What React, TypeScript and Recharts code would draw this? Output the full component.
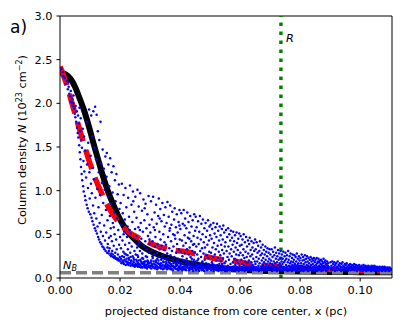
import {
  ComposedChart,
  Line,
  ReferenceLine,
  Scatter,
  XAxis,
  YAxis,
} from "recharts";

// axis setup (pc, 10^23 cm^-2)
const X_MAX = 0.1106;
const X_TICKS = [0, 0.02, 0.04, 0.06, 0.08, 0.1];
const Y_TICKS = [0, 0.5, 1, 1.5, 2, 2.5, 3];

const R_CORE = 0.0736;
const N_BACKGROUND = 0.06;

// model profile (black solid)
const MODEL_X = [0, 0.002, 0.0035, 0.005, 0.0065, 0.008, 0.0095, 0.011, 0.0125, 0.014, 0.016, 0.018, 0.02, 0.0225, 0.025, 0.0275, 0.03, 0.035, 0.04, 0.045, 0.05, 0.055, 0.06, 0.065, 0.07, 0.08, 0.09, 0.1, 0.1106];
const MODEL_N = [2.35, 2.33, 2.28, 2.19, 2.06, 1.92, 1.75, 1.56, 1.38, 1.2, 0.99, 0.82, 0.67, 0.53, 0.44, 0.36, 0.31, 0.24, 0.19, 0.155, 0.13, 0.11, 0.095, 0.085, 0.08, 0.073, 0.069, 0.067, 0.065];

// mean observed profile (red dashed)
const MEAN_X = [0, 0.002, 0.004, 0.006, 0.008, 0.01, 0.012, 0.014, 0.016, 0.018, 0.02, 0.022, 0.0245, 0.028, 0.032, 0.036, 0.042, 0.047, 0.052, 0.057, 0.063, 0.068, 0.073, 0.078, 0.083, 0.093, 0.103, 0.1106];
const MEAN_N = [2.42, 2.24, 2.0, 1.76, 1.53, 1.31, 1.12, 0.96, 0.82, 0.71, 0.62, 0.55, 0.49, 0.43, 0.37, 0.33, 0.3, 0.26, 0.22, 0.2, 0.16, 0.14, 0.13, 0.12, 0.11, 0.095, 0.085, 0.08];

// individual pixel column densities (blue dots), [x, N]
const PIXELS: [number, number][] = [
  // 0.000 - 0.010
  [0.0004,2.40],[0.0009,2.36],[0.0011,2.31],[0.0016,2.29],[0.0019,2.22],[0.0023,2.26],[0.0026,2.16],[0.0029,2.19],[0.0031,2.11],[0.0034,2.08],
  [0.0036,2.14],[0.0039,2.01],[0.0041,2.05],[0.0043,1.97],[0.0045,2.09],[0.0047,1.94],[0.0049,1.88],[0.0035,2.02],[0.0027,2.24],[0.0044,2.00],
  [0.0051,1.84],[0.0052,1.97],[0.0054,1.79],[0.0056,1.91],[0.0057,1.72],[0.0059,1.66],[0.006,1.86],[0.0061,1.61],[0.0063,1.77],[0.0064,1.52],
  [0.0065,1.95],[0.0066,1.44],[0.0067,1.68],[0.0068,1.36],[0.0069,1.83],[0.007,1.27],[0.0071,1.58],[0.0072,1.19],[0.0073,1.49],[0.0074,1.12],
  [0.0076,1.71],[0.0077,1.05],[0.0078,1.34],[0.0079,0.99],[0.008,1.62],[0.0081,1.22],[0.0083,0.94],[0.0084,1.46],[0.0085,0.89],[0.0087,1.15],
  [0.0088,1.79],[0.0089,0.84],[0.009,1.30],[0.0092,0.80],[0.0093,1.03],[0.0094,1.55],[0.0096,0.76],[0.0097,1.93],[0.0098,1.21],[0.0099,0.91],
  // 0.010 - 0.015
  [0.0101,0.73],[0.0102,1.40],[0.0103,1.08],[0.0104,1.86],[0.0105,0.69],[0.0106,0.97],[0.0107,1.62],[0.0108,0.65],[0.0109,1.26],[0.011,0.83],
  [0.0111,1.91],[0.0112,0.61],[0.0113,1.13],[0.0114,0.74],[0.0115,1.49],[0.0116,0.57],[0.0117,1.96],[0.0118,0.92],[0.0119,0.54],[0.012,1.36],
  [0.0121,0.68],[0.0122,1.87],[0.0123,0.51],[0.0124,1.02],[0.0125,0.59],[0.0126,1.68],[0.0127,0.47],[0.0128,0.81],[0.0129,1.21],[0.013,0.44],
  [0.0131,1.58],[0.0132,0.63],[0.0133,0.95],[0.0134,0.41],[0.0135,1.79],[0.0136,0.53],[0.0137,1.31],[0.0138,0.39],[0.0139,0.72],[0.014,1.09],
  [0.0141,0.36],[0.0142,1.47],[0.0143,0.48],[0.0144,0.86],[0.0145,0.35],[0.0146,1.25],[0.0147,0.60],[0.0148,0.33],[0.0149,1.01],[0.015,0.43],
  // 0.015 - 0.020
  [0.0151,1.39],[0.0152,0.31],[0.0153,0.78],[0.0154,0.52],[0.0155,1.16],[0.0156,1.43],[0.0157,0.29],[0.0158,0.66],[0.0159,0.39],[0.016,0.93],
  [0.0161,1.30],[0.0162,0.28],[0.0163,0.46],[0.0164,1.05],[0.0165,0.34],[0.0166,0.71],[0.0167,1.37],[0.0168,0.26],[0.0169,0.57],[0.017,0.85],
  [0.0171,0.25],[0.0172,1.21],[0.0173,0.42],[0.0174,0.31],[0.0175,0.98],[0.0176,0.63],[0.0177,0.24],[0.0178,1.28],[0.0179,0.37],[0.018,0.75],
  [0.0181,0.23],[0.0182,0.50],[0.0183,1.12],[0.0184,0.29],[0.0185,0.88],[0.0186,0.22],[0.0187,0.44],[0.0188,1.19],[0.0189,0.33],[0.019,0.68],
  [0.0191,0.21],[0.0192,0.96],[0.0193,0.27],[0.0194,0.55],[0.0195,0.20],[0.0196,1.07],[0.0197,0.38],[0.0198,0.79],[0.0199,0.24],[0.02,0.47],
  [0.0158,0.35],[0.0163,0.31],[0.0171,0.28],[0.0176,0.27],[0.0182,0.25],[0.0188,0.23],[0.0193,0.22],[0.0197,0.21],[0.0169,0.48],[0.0179,0.58],
  // 0.020 - 0.025
  [0.0201,0.19],[0.0202,0.86],[0.0203,0.34],[0.0204,0.61],[0.0205,0.17],[0.0206,1.08],[0.0207,0.25],[0.0208,0.43],[0.0209,0.74],[0.021,0.18],
  [0.0211,0.30],[0.0212,0.95],[0.0213,0.16],[0.0214,0.53],[0.0215,0.21],[0.0216,0.67],[0.0217,0.38],[0.0218,1.03],[0.0219,0.15],[0.022,0.27],
  [0.0221,0.81],[0.0222,0.19],[0.0223,0.47],[0.0224,0.16],[0.0225,0.59],[0.0226,0.33],[0.0227,0.92],[0.0228,0.15],[0.0229,0.23],[0.023,0.70],
  [0.0231,0.40],[0.0232,0.17],[0.0233,1.06],[0.0234,0.29],[0.0235,0.14],[0.0236,0.51],[0.0237,0.20],[0.0238,0.84],[0.0239,0.36],[0.024,0.15],
  [0.0241,0.64],[0.0242,0.25],[0.0243,0.99],[0.0244,0.14],[0.0245,0.44],[0.0246,0.18],[0.0247,0.76],[0.0248,0.31],[0.0249,0.13],[0.025,0.56],
  [0.0203,0.22],[0.0208,0.20],[0.0213,0.24],[0.0218,0.19],[0.0222,0.22],[0.0226,0.18],[0.023,0.21],[0.0234,0.17],[0.0238,0.19],[0.0242,0.16],
  [0.0246,0.21],[0.025,0.15],[0.0215,0.28],[0.0225,0.26],[0.0235,0.24],[0.0245,0.23],[0.0212,0.50],[0.0232,0.55],[0.0244,0.88],
  // 0.025 - 0.030
  [0.0251,0.93],[0.0252,0.27],[0.0253,0.14],[0.0254,0.48],[0.0255,0.69],[0.0256,0.19],[0.0257,0.35],[0.0258,1.01],[0.0259,0.13],[0.026,0.24],
  [0.0261,0.58],[0.0262,0.82],[0.0263,0.16],[0.0264,0.41],[0.0265,0.13],[0.0266,0.31],[0.0267,0.97],[0.0268,0.21],[0.0269,0.63],[0.027,0.12],
  [0.0271,0.45],[0.0272,0.17],[0.0273,0.77],[0.0274,0.28],[0.0275,0.12],[0.0276,0.53],[0.0277,0.22],[0.0278,0.90],[0.0279,0.37],[0.028,0.14],
  [0.0281,0.66],[0.0282,0.19],[0.0283,0.12],[0.0284,0.42],[0.0285,0.85],[0.0286,0.25],[0.0287,0.15],[0.0288,0.57],[0.0289,0.33],[0.029,0.11],
  [0.0291,0.73],[0.0292,0.20],[0.0293,0.48],[0.0294,0.13],[0.0295,0.94],[0.0296,0.29],[0.0297,0.17],[0.0298,0.61],[0.0299,0.39],[0.03,0.12],
  [0.0252,0.16],[0.0256,0.15],[0.026,0.17],[0.0264,0.14],[0.0268,0.15],[0.0272,0.13],[0.0276,0.16],[0.028,0.17],[0.0284,0.15],[0.0288,0.13],
  [0.0292,0.16],[0.0296,0.14],[0.0254,0.21],[0.0262,0.20],[0.027,0.19],[0.0278,0.18],[0.0286,0.19],[0.0294,0.18],[0.0258,0.26],[0.0274,0.23],
  [0.029,0.24],[0.0266,0.55],[0.0282,0.80],[0.0298,0.44],[0.0259,0.38],
  // 0.030 - 0.035
  [0.0301,0.52],[0.0302,0.18],[0.0303,0.88],[0.0304,0.11],[0.0305,0.31],[0.0306,0.67],[0.0307,0.14],[0.0308,0.42],[0.0309,0.23],[0.031,0.93],
  [0.0311,0.12],[0.0312,0.58],[0.0313,0.27],[0.0314,0.16],[0.0315,0.75],[0.0316,0.36],[0.0317,0.11],[0.0318,0.47],[0.0319,0.20],[0.032,0.84],
  [0.0321,0.13],[0.0322,0.62],[0.0323,0.29],[0.0324,0.10],[0.0325,0.39],[0.0326,0.17],[0.0327,0.71],[0.0328,0.24],[0.0329,0.91],[0.033,0.12],
  [0.0331,0.53],[0.0332,0.33],[0.0333,0.15],[0.0334,0.79],[0.0335,0.44],[0.0336,0.11],[0.0337,0.21],[0.0338,0.65],[0.0339,0.37],[0.034,0.14],
  [0.0341,0.86],[0.0342,0.26],[0.0343,0.10],[0.0344,0.50],[0.0345,0.18],[0.0346,0.72],[0.0347,0.32],[0.0348,0.13],[0.0349,0.59],[0.035,0.22],
  [0.0302,0.14],[0.0306,0.16],[0.031,0.13],[0.0314,0.12],[0.0318,0.15],[0.0322,0.14],[0.0326,0.12],[0.033,0.16],[0.0334,0.13],[0.0338,0.12],
  [0.0342,0.15],[0.0346,0.11],[0.035,0.14],[0.0304,0.20],[0.0312,0.19],[0.032,0.18],[0.0328,0.20],[0.0336,0.17],[0.0344,0.19],[0.0308,0.25],
  [0.0324,0.22],[0.034,0.23],[0.0316,0.55],[0.0332,0.68],[0.0348,0.41],
  // 0.035 - 0.040
  [0.0351,0.81],[0.0352,0.12],[0.0353,0.38],[0.0354,0.19],[0.0355,0.63],[0.0356,0.10],[0.0357,0.28],[0.0358,0.87],[0.0359,0.15],[0.036,0.47],
  [0.0361,0.23],[0.0362,0.70],[0.0363,0.11],[0.0364,0.34],[0.0365,0.54],[0.0366,0.17],[0.0367,0.83],[0.0368,0.26],[0.0369,0.10],[0.037,0.42],
  [0.0371,0.61],[0.0372,0.14],[0.0373,0.31],[0.0374,0.76],[0.0375,0.20],[0.0376,0.09],[0.0377,0.50],[0.0378,0.36],[0.0379,0.13],[0.038,0.67],
  [0.0381,0.24],[0.0382,0.80],[0.0383,0.11],[0.0384,0.45],[0.0385,0.18],[0.0386,0.58],[0.0387,0.29],[0.0388,0.10],[0.0389,0.73],[0.039,0.39],
  [0.0391,0.15],[0.0392,0.52],[0.0393,0.22],[0.0394,0.09],[0.0395,0.64],[0.0396,0.33],[0.0397,0.12],[0.0398,0.78],[0.0399,0.44],[0.04,0.17],
  [0.0352,0.15],[0.0356,0.13],[0.036,0.12],[0.0364,0.14],[0.0368,0.13],[0.0372,0.11],[0.0376,0.14],[0.038,0.12],[0.0384,0.13],[0.0388,0.14],
  [0.0392,0.11],[0.0396,0.13],[0.04,0.10],[0.0354,0.17],[0.0362,0.18],[0.037,0.16],[0.0378,0.17],[0.0386,0.16],[0.0394,0.18],[0.0358,0.22],
  [0.0374,0.21],[0.039,0.20],[0.0366,0.57],[0.0382,0.49],[0.0398,0.60],
  // 0.040 - 0.045
  [0.0401,0.56],[0.0402,0.11],[0.0403,0.30],[0.0404,0.74],[0.0405,0.16],[0.0406,0.43],[0.0407,0.09],[0.0408,0.25],[0.0409,0.62],[0.041,0.13],
  [0.0411,0.37],[0.0412,0.78],[0.0413,0.20],[0.0414,0.10],[0.0415,0.49],[0.0416,0.28],[0.0417,0.68],[0.0418,0.14],[0.0419,0.40],[0.042,0.09],
  [0.0421,0.57],[0.0422,0.22],[0.0423,0.33],[0.0424,0.75],[0.0425,0.12],[0.0426,0.46],[0.0427,0.18],[0.0428,0.64],[0.0429,0.27],[0.043,0.09],
  [0.0431,0.52],[0.0432,0.35],[0.0433,0.15],[0.0434,0.71],[0.0435,0.24],[0.0436,0.10],[0.0437,0.42],[0.0438,0.59],[0.0439,0.19],[0.044,0.31],
  [0.0441,0.12],[0.0442,0.66],[0.0443,0.38],[0.0444,0.08],[0.0445,0.48],[0.0446,0.21],[0.0447,0.73],[0.0448,0.14],[0.0449,0.29],[0.045,0.54],
  [0.0401,0.14],[0.0405,0.12],[0.0409,0.11],[0.0413,0.13],[0.0417,0.10],[0.0421,0.12],[0.0425,0.14],[0.0429,0.11],[0.0433,0.12],[0.0437,0.13],
  [0.0441,0.10],[0.0445,0.12],[0.0449,0.11],[0.0403,0.17],[0.0411,0.16],[0.0419,0.17],[0.0427,0.15],[0.0435,0.16],[0.0443,0.17],[0.0407,0.21],
  [0.0423,0.19],[0.0439,0.22],[0.0415,0.60],[0.0431,0.45],[0.0447,0.39],
  // 0.045 - 0.050
  [0.0451,0.19],[0.0452,0.70],[0.0453,0.09],[0.0454,0.36],[0.0455,0.58],[0.0456,0.13],[0.0457,0.27],[0.0458,0.46],[0.0459,0.10],[0.046,0.65],
  [0.0461,0.22],[0.0462,0.39],[0.0463,0.08],[0.0464,0.53],[0.0465,0.16],[0.0466,0.71],[0.0467,0.31],[0.0468,0.11],[0.0469,0.44],[0.047,0.24],
  [0.0471,0.62],[0.0472,0.09],[0.0473,0.34],[0.0474,0.18],[0.0475,0.50],[0.0476,0.67],[0.0477,0.13],[0.0478,0.28],[0.0479,0.41],[0.048,0.08],
  [0.0481,0.57],[0.0482,0.21],[0.0483,0.35],[0.0484,0.12],[0.0485,0.63],[0.0486,0.47],[0.0487,0.17],[0.0488,0.26],[0.0489,0.09],[0.049,0.54],
  [0.0491,0.38],[0.0492,0.14],[0.0493,0.66],[0.0494,0.23],[0.0495,0.10],[0.0496,0.43],[0.0497,0.30],[0.0498,0.59],[0.0499,0.15],[0.05,0.49],
  [0.0452,0.12],[0.0456,0.10],[0.046,0.13],[0.0464,0.11],[0.0468,0.14],[0.0472,0.12],[0.0476,0.10],[0.048,0.13],[0.0484,0.11],[0.0488,0.12],
  [0.0492,0.10],[0.0496,0.12],[0.0454,0.16],[0.0462,0.15],[0.047,0.16],[0.0478,0.15],[0.0486,0.14],[0.0494,0.16],[0.0458,0.20],[0.0474,0.19],
  // 0.050 - 0.055
  [0.0501,0.12],[0.0502,0.61],[0.0503,0.29],[0.0504,0.09],[0.0505,0.45],[0.0506,0.18],[0.0507,0.56],[0.0508,0.35],[0.0509,0.11],[0.051,0.24],
  [0.0511,0.63],[0.0512,0.08],[0.0513,0.40],[0.0514,0.15],[0.0515,0.51],[0.0516,0.27],[0.0517,0.10],[0.0518,0.58],[0.0519,0.33],[0.052,0.20],
  [0.0521,0.47],[0.0522,0.09],[0.0523,0.62],[0.0524,0.13],[0.0525,0.37],[0.0526,0.23],[0.0527,0.54],[0.0528,0.08],[0.0529,0.30],[0.053,0.43],
  [0.0531,0.16],[0.0532,0.59],[0.0533,0.11],[0.0534,0.26],[0.0535,0.49],[0.0536,0.19],[0.0537,0.38],[0.0538,0.09],[0.0539,0.56],[0.054,0.32],
  [0.0541,0.14],[0.0542,0.44],[0.0543,0.22],[0.0544,0.60],[0.0545,0.10],[0.0546,0.28],[0.0547,0.52],[0.0548,0.17],[0.0549,0.36],[0.055,0.08],
  [0.0502,0.13],[0.0506,0.11],[0.051,0.12],[0.0514,0.10],[0.0518,0.13],[0.0522,0.12],[0.0526,0.10],[0.053,0.12],[0.0534,0.13],[0.0538,0.11],
  [0.0542,0.12],[0.0546,0.10],[0.055,0.13],[0.0508,0.16],[0.0524,0.15],[0.054,0.16],
  // 0.055 - 0.060
  [0.0551,0.41],[0.0552,0.19],[0.0553,0.55],[0.0554,0.11],[0.0555,0.31],[0.0556,0.08],[0.0557,0.47],[0.0558,0.24],[0.0559,0.14],[0.056,0.57],
  [0.0561,0.36],[0.0562,0.10],[0.0563,0.21],[0.0564,0.50],[0.0565,0.28],[0.0566,0.09],[0.0567,0.43],[0.0568,0.16],[0.0569,0.54],[0.057,0.33],
  [0.0571,0.12],[0.0572,0.25],[0.0573,0.46],[0.0574,0.08],[0.0575,0.38],[0.0576,0.18],[0.0577,0.53],[0.0578,0.13],[0.0579,0.30],[0.058,0.42],
  [0.0581,0.10],[0.0582,0.22],[0.0583,0.49],[0.0584,0.15],[0.0585,0.35],[0.0586,0.09],[0.0587,0.27],[0.0588,0.52],[0.0589,0.20],[0.059,0.40],
  [0.0591,0.11],[0.0592,0.32],[0.0593,0.17],[0.0594,0.45],[0.0595,0.08],[0.0596,0.26],[0.0597,0.51],[0.0598,0.14],[0.0599,0.37],[0.06,0.10],
  [0.0553,0.12],[0.0557,0.10],[0.0561,0.13],[0.0565,0.11],[0.0569,0.12],[0.0573,0.10],[0.0577,0.13],[0.0581,0.12],[0.0585,0.11],[0.0589,0.13],
  [0.0593,0.10],[0.0597,0.12],
  // 0.060 - 0.065
  [0.0601,0.29],[0.0602,0.48],[0.0603,0.12],[0.0604,0.21],[0.0605,0.38],[0.0606,0.09],[0.0607,0.16],[0.0608,0.44],[0.0609,0.26],[0.061,0.11],
  [0.0611,0.33],[0.0612,0.50],[0.0613,0.14],[0.0614,0.23],[0.0615,0.08],[0.0616,0.41],[0.0617,0.19],[0.0618,0.30],[0.0619,0.10],[0.062,0.47],
  [0.0621,0.13],[0.0622,0.24],[0.0623,0.36],[0.0624,0.09],[0.0625,0.17],[0.0626,0.43],[0.0627,0.28],[0.0628,0.11],[0.0629,0.20],[0.063,0.39],
  [0.0631,0.14],[0.0632,0.46],[0.0633,0.08],[0.0634,0.25],[0.0635,0.32],[0.0636,0.12],[0.0637,0.18],[0.0638,0.42],[0.0639,0.10],[0.064,0.27],
  [0.0641,0.35],[0.0642,0.15],[0.0643,0.09],[0.0644,0.22],[0.0645,0.40],[0.0646,0.13],[0.0647,0.31],[0.0648,0.11],[0.0649,0.19],[0.065,0.44],
  [0.0602,0.11],[0.0606,0.13],[0.061,0.12],[0.0614,0.10],[0.0618,0.12],[0.0622,0.11],[0.0626,0.13],[0.063,0.10],[0.0634,0.12],[0.0638,0.11],
  [0.0642,0.13],[0.0646,0.10],[0.065,0.12],
  // 0.065 - 0.070
  [0.0651,0.16],[0.0652,0.33],[0.0653,0.09],[0.0654,0.24],[0.0655,0.41],[0.0656,0.12],[0.0657,0.19],[0.0658,0.29],[0.0659,0.10],[0.066,0.37],
  [0.0661,0.14],[0.0662,0.22],[0.0663,0.08],[0.0664,0.31],[0.0665,0.17],[0.0666,0.42],[0.0667,0.11],[0.0668,0.26],[0.0669,0.13],[0.067,0.35],
  [0.0671,0.09],[0.0672,0.20],[0.0673,0.28],[0.0674,0.12],[0.0675,0.38],[0.0676,0.15],[0.0677,0.23],[0.0678,0.10],[0.0679,0.32],[0.068,0.18],
  [0.0681,0.08],[0.0682,0.27],[0.0683,0.13],[0.0684,0.36],[0.0685,0.21],[0.0686,0.11],[0.0687,0.30],[0.0688,0.16],[0.0689,0.09],[0.069,0.25],
  [0.0691,0.34],[0.0692,0.12],[0.0693,0.19],[0.0694,0.10],[0.0695,0.29],[0.0696,0.14],[0.0697,0.22],[0.0698,0.33],[0.0699,0.11],[0.07,0.17],
  [0.0654,0.12],[0.0662,0.11],[0.067,0.13],[0.0678,0.12],[0.0686,0.13],[0.0694,0.12],
  // 0.070 - 0.075
  [0.0701,0.27],[0.0702,0.10],[0.0703,0.20],[0.0704,0.13],[0.0705,0.33],[0.0706,0.08],[0.0707,0.16],[0.0708,0.24],[0.0709,0.11],[0.071,0.30],
  [0.0711,0.14],[0.0712,0.19],[0.0713,0.09],[0.0714,0.26],[0.0715,0.12],[0.0716,0.35],[0.0717,0.17],[0.0718,0.10],[0.0719,0.22],[0.072,0.29],
  [0.0721,0.13],[0.0722,0.08],[0.0723,0.18],[0.0724,0.25],[0.0725,0.11],[0.0726,0.32],[0.0727,0.15],[0.0728,0.21],[0.0729,0.09],[0.073,0.28],
  [0.0731,0.12],[0.0732,0.17],[0.0733,0.10],[0.0734,0.23],[0.0735,0.31],[0.0736,0.14],[0.0737,0.08],[0.0738,0.19],[0.0739,0.27],[0.074,0.11],
  [0.0741,0.16],[0.0742,0.22],[0.0743,0.09],[0.0744,0.30],[0.0745,0.13],[0.0746,0.18],[0.0747,0.10],[0.0748,0.25],[0.0749,0.12],[0.075,0.20],
  [0.0703,0.12],[0.0713,0.11],[0.0723,0.12],[0.0733,0.13],[0.0743,0.12],
  // 0.075 - 0.080
  [0.0751,0.29],[0.0752,0.09],[0.0753,0.15],[0.0754,0.22],[0.0755,0.11],[0.0756,0.26],[0.0757,0.13],[0.0758,0.08],[0.0759,0.18],[0.076,0.31],
  [0.0761,0.10],[0.0762,0.21],[0.0763,0.14],[0.0764,0.09],[0.0765,0.25],[0.0766,0.12],[0.0767,0.17],[0.0768,0.28],[0.0769,0.10],[0.077,0.19],
  [0.0771,0.13],[0.0772,0.08],[0.0773,0.23],[0.0774,0.15],[0.0775,0.27],[0.0776,0.11],[0.0777,0.18],[0.0778,0.09],[0.0779,0.21],[0.078,0.14],
  [0.0781,0.26],[0.0782,0.10],[0.0783,0.16],[0.0784,0.12],[0.0785,0.24],[0.0786,0.08],[0.0787,0.19],[0.0788,0.13],[0.0789,0.28],[0.079,0.11],
  [0.0791,0.15],[0.0792,0.22],[0.0793,0.09],[0.0794,0.17],[0.0795,0.12],[0.0796,0.25],[0.0797,0.10],[0.0798,0.20],[0.0799,0.14],[0.08,0.08],
  [0.0754,0.12],[0.0764,0.13],[0.0774,0.12],[0.0784,0.11],[0.0794,0.13],
  // 0.080 - 0.090
  [0.0801,0.23],[0.0802,0.12],[0.0803,0.17],[0.0804,0.09],[0.0805,0.27],[0.0806,0.14],[0.0807,0.10],[0.0808,0.20],[0.0809,0.13],[0.081,0.24],
  [0.0811,0.08],[0.0812,0.16],[0.0813,0.11],[0.0814,0.21],[0.0815,0.13],[0.0816,0.26],[0.0817,0.09],[0.0818,0.18],[0.0819,0.12],[0.082,0.22],
  [0.0821,0.10],[0.0822,0.15],[0.0823,0.25],[0.0824,0.11],[0.0825,0.19],[0.0826,0.08],[0.0827,0.14],[0.0828,0.23],[0.0829,0.12],[0.083,0.17],
  [0.0831,0.09],[0.0832,0.21],[0.0833,0.13],[0.0834,0.11],[0.0835,0.24],[0.0836,0.15],[0.0837,0.10],[0.0838,0.19],[0.0839,0.12],[0.084,0.22],
  [0.0841,0.08],[0.0842,0.16],[0.0843,0.13],[0.0844,0.20],[0.0845,0.11],[0.0846,0.23],[0.0847,0.09],[0.0848,0.14],[0.0849,0.18],[0.085,0.12],
  [0.0851,0.21],[0.0852,0.10],[0.0853,0.15],[0.0854,0.12],[0.0855,0.23],[0.0856,0.08],[0.0857,0.17],[0.0858,0.13],[0.0859,0.19],[0.086,0.11],
  [0.0861,0.22],[0.0862,0.09],[0.0863,0.14],[0.0864,0.18],[0.0865,0.12],[0.0866,0.20],[0.0867,0.10],[0.0868,0.16],[0.0869,0.13],[0.087,0.21],
  [0.0871,0.08],[0.0872,0.15],[0.0873,0.11],[0.0874,0.19],[0.0875,0.13],[0.0876,0.17],[0.0877,0.09],[0.0878,0.22],[0.0879,0.12],[0.088,0.14],
  [0.0881,0.10],[0.0882,0.18],[0.0883,0.13],[0.0884,0.20],[0.0885,0.11],[0.0886,0.16],[0.0887,0.08],[0.0888,0.15],[0.0889,0.12],[0.089,0.19],
  [0.0891,0.10],[0.0892,0.14],[0.0893,0.17],[0.0894,0.11],[0.0895,0.13],
  // 0.090 - 0.100
  [0.0901,0.18],[0.0902,0.11],[0.0904,0.14],[0.0905,0.09],[0.0907,0.19],[0.0908,0.12],[0.091,0.16],[0.0911,0.10],[0.0913,0.13],[0.0914,0.18],
  [0.0916,0.08],[0.0917,0.15],[0.0919,0.11],[0.092,0.17],[0.0922,0.13],[0.0923,0.09],[0.0925,0.19],[0.0926,0.12],[0.0928,0.15],[0.0929,0.10],
  [0.0931,0.14],[0.0932,0.17],[0.0934,0.11],[0.0935,0.13],[0.0937,0.08],[0.0938,0.16],[0.094,0.12],[0.0941,0.18],[0.0943,0.10],[0.0944,0.14],
  [0.0946,0.13],[0.0947,0.09],[0.0949,0.16],[0.095,0.11],[0.0952,0.15],[0.0953,0.12],[0.0955,0.17],[0.0956,0.10],[0.0958,0.13],[0.0959,0.08],
  [0.0961,0.15],[0.0962,0.11],[0.0964,0.14],[0.0965,0.12],[0.0967,0.16],[0.0968,0.09],[0.097,0.13],[0.0971,0.11],[0.0973,0.15],[0.0974,0.10],
  [0.0976,0.12],[0.0977,0.14],[0.0979,0.09],[0.098,0.16],[0.0982,0.11],[0.0983,0.13],[0.0985,0.10],[0.0986,0.15],[0.0988,0.12],[0.0989,0.08],
  [0.0991,0.14],[0.0992,0.11],[0.0994,0.13],[0.0995,0.10],[0.0997,0.15],[0.0998,0.12],[0.1,0.09],
  // 0.100 - 0.1105
  [0.1002,0.13],[0.1003,0.10],[0.1005,0.14],[0.1006,0.11],[0.1008,0.08],[0.1009,0.12],[0.1011,0.15],[0.1012,0.10],[0.1014,0.13],[0.1015,0.09],
  [0.1017,0.12],[0.1018,0.14],[0.102,0.11],[0.1021,0.08],[0.1023,0.13],[0.1024,0.10],[0.1026,0.12],[0.1027,0.14],[0.1029,0.09],[0.103,0.11],
  [0.1032,0.13],[0.1033,0.10],[0.1035,0.12],[0.1036,0.08],[0.1038,0.14],[0.1039,0.11],[0.1041,0.09],[0.1042,0.13],[0.1044,0.10],[0.1045,0.12],
  [0.1047,0.14],[0.1048,0.08],[0.105,0.11],[0.1051,0.13],[0.1053,0.09],[0.1054,0.12],[0.1056,0.10],[0.1057,0.13],[0.1059,0.11],[0.106,0.08],
  [0.1062,0.12],[0.1063,0.10],[0.1065,0.13],[0.1066,0.09],[0.1068,0.11],[0.1069,0.12],[0.1071,0.10],[0.1072,0.08],[0.1074,0.13],[0.1075,0.11],
  [0.1077,0.09],[0.1078,0.12],[0.108,0.10],[0.1081,0.13],[0.1083,0.11],[0.1084,0.08],[0.1086,0.12],[0.1087,0.10],[0.1089,0.11],[0.109,0.09],
  [0.1092,0.12],[0.1093,0.10],[0.1095,0.11],[0.1096,0.08],[0.1098,0.12],[0.1099,0.10],[0.1101,0.11],[0.1102,0.09],[0.1104,0.10],
];

const FONT = "'DejaVu Sans', sans-serif";
const FS = 11.3;
const tick = { fill: "#000", fontSize: FS, fontFamily: FONT };

const modelData = MODEL_X.map((x, i) => ({ x, y: MODEL_N[i] }));
const meanData = MEAN_X.map((x, i) => ({ x, y: MEAN_N[i] }));
const pixelData = PIXELS.map(([x, y]) => ({ x, y }));

const Dot = (p: any) => <circle cx={p.cx} cy={p.cy} r={1.25} fill="#0000ff" />;

export default function App() {
  return (
    <div style={{ position: "fixed", left: 0, top: 0, width: 407, height: 326, background: "#fff", fontFamily: FONT }}>
      <ComposedChart width={407} height={326} margin={{ top: 16, right: 15, bottom: 0, left: 0 }}>
        <XAxis
          type="number"
          dataKey="x"
          domain={[0, X_MAX]}
          ticks={X_TICKS}
          allowDataOverflow
          tickFormatter={(v: number) => v.toFixed(2)}
          tick={tick}
          tickSize={3.5}
          tickMargin={4}
          tickLine={{ stroke: "#000" }}
          axisLine={{ stroke: "#000" }}
          height={48}
          label={{ value: "projected distance from core center, x (pc)", position: "insideBottom", offset: 11, fill: "#000", fontSize: FS, fontFamily: FONT }}
        />
        <YAxis
          type="number"
          dataKey="y"
          domain={[0, 3]}
          ticks={Y_TICKS}
          allowDataOverflow
          tickFormatter={(v: number) => v.toFixed(1)}
          tick={tick}
          tickSize={3.5}
          tickMargin={4}
          tickLine={{ stroke: "#000" }}
          axisLine={{ stroke: "#000" }}
          width={60}
          label={{
            content: () => (
              <text x={26} y={140} transform="rotate(-90 26 140)" textAnchor="middle" fontSize={FS} fontFamily={FONT} fill="#000">
                Column density <tspan fontStyle="italic">N</tspan> (10
                <tspan dy={-4.5} fontSize={8}>23</tspan>
                <tspan dy={4.5}> cm</tspan>
                <tspan dy={-4.5} fontSize={8}>−2</tspan>
                <tspan dy={4.5}>)</tspan>
              </text>
            ),
          }}
        />
        <ReferenceLine y={3} stroke="#000" strokeWidth={1} />
        <ReferenceLine x={X_MAX} stroke="#000" strokeWidth={1} />
        <Scatter data={pixelData} dataKey="y" shape={Dot} isAnimationActive={false} />
        <Line data={modelData} dataKey="y" type="monotone" stroke="#000" strokeWidth={6} dot={false} isAnimationActive={false} />
        <Line data={meanData} dataKey="y" type="monotone" stroke="#ff0000" strokeWidth={5.5} strokeDasharray="20 9" dot={false} isAnimationActive={false} />
        <ReferenceLine
          y={N_BACKGROUND}
          stroke="#808080"
          strokeWidth={3.3}
          strokeDasharray="11 5"
          label={{
            content: (p: any) => (
              <text x={p.viewBox.x + 3} y={p.viewBox.y - 4} fontSize={FS} fontFamily={FONT} fontStyle="italic" fill="#000">
                N<tspan dy={2.5} fontSize={8}>B</tspan>
              </text>
            ),
          }}
        />
        <ReferenceLine
          x={R_CORE}
          stroke="#008000"
          strokeWidth={3.4}
          strokeDasharray="3.4 5.6"
          label={{
            content: (p: any) => (
              <text x={p.viewBox.x + 5} y={p.viewBox.y + 26} fontSize={FS} fontFamily={FONT} fontStyle="italic" fill="#000">
                R
              </text>
            ),
          }}
        />
      </ComposedChart>
      <div style={{ position: "absolute", left: 10, top: 17, fontSize: 17, fontFamily: FONT, lineHeight: "20px" }}>a)</div>
    </div>
  );
}
